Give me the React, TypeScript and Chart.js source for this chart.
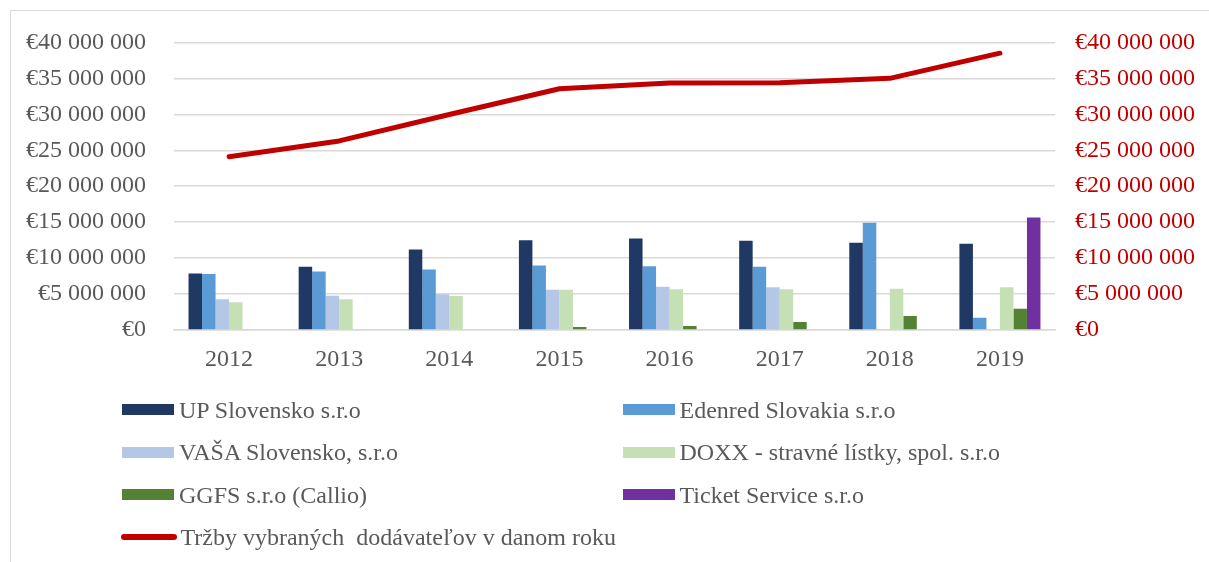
import React, { useEffect, useRef } from "react";
import { Chart, registerables } from "chart.js";

Chart.register(...registerables);

// ---- data ----
const categories = ["2012", "2013", "2014", "2015", "2016", "2017", "2018", "2019"];

const upSlovensko = [7850000, 8780000, 11200000, 12500000, 12730000, 12410000, 12140000, 12000000];
const edenred = [7800000, 8140000, 8410000, 8970000, 8870000, 8780000, 14900000, 1700000];
const vasa = [4280000, 4780000, 4970000, 5610000, 6030000, 5930000, null, null];
const doxx = [3860000, 4280000, 4730000, 5610000, 5660000, 5660000, 5750000, 5930000];
const ggfs = [null, null, null, 410000, 550000, 1100000, 1930000, 2940000];
const ticketService = [null, null, null, null, null, null, null, 15630000];
const trzby = [24100000, 26300000, 29970000, 33560000, 34340000, 34400000, 35000000, 38500000];

const seriesLabels = [
  "UP Slovensko s.r.o",
  "Edenred Slovakia s.r.o",
  "VAŠA Slovensko, s.r.o",
  "DOXX - stravné lístky, spol. s.r.o",
  "GGFS s.r.o (Callio)",
  "Ticket Service s.r.o",
];
const lineLabel = "Tržby vybraných  dodávateľov v danom roku";

const seriesColors = ["#203864", "#5B9BD5", "#B4C7E7", "#C5E0B4", "#548235", "#7030A0"];
const lineColor = "#C00000";

const axisMin = 0;
const axisMax = 40000000;
const axisStep = 5000000;

const FONT = '"Liberation Serif", "Times New Roman", serif';
const TEXT_GREY = "#595959";
const GRID = "#d9d9d9";

function euro(v: number | string): string {
  const n = Math.round(Number(v));
  const s = String(n).replace(/\B(?=(\d{3})+(?!\d))/g, " ");
  return "€" + s;
}

export default function App() {
  const canvasRef = useRef<HTMLCanvasElement | null>(null);

  useEffect(() => {
    const canvas = canvasRef.current;
    if (!canvas) return;
    const barSeries = [upSlovensko, edenred, vasa, doxx, ggfs, ticketService];
    const datasets: any[] = barSeries.map((d, i) => ({
      type: "bar",
      label: seriesLabels[i],
      data: d,
      backgroundColor: seriesColors[i],
      borderWidth: 0,
      categoryPercentage: 0.736,
      barPercentage: 1,
      yAxisID: "y",
      order: 1,
    }));
    datasets.push({
      type: "line",
      label: lineLabel,
      data: trzby,
      borderColor: lineColor,
      backgroundColor: lineColor,
      borderWidth: 5,
      borderCapStyle: "round",
      borderJoinStyle: "round",
      pointRadius: 0,
      tension: 0,
      yAxisID: "y1",
      order: 0,
    });

    const chart = new Chart(canvas, {
      type: "bar",
      data: { labels: categories, datasets },
      options: {
        responsive: false,
        animation: false,
        layout: { padding: { top: 39, bottom: 182, left: 0, right: 0 } },
        plugins: { legend: { display: false }, tooltip: { enabled: false }, title: { display: false } },
        scales: {
          x: {
            grid: { display: false, drawTicks: false },
            border: { display: true, color: GRID, width: 1.5 },
            ticks: { font: { family: FONT, size: 24 }, color: TEXT_GREY, padding: 15 },
            afterFit: (s: any) => {
              s.height = 50;
            },
          },
          y: {
            position: "left",
            min: axisMin,
            max: axisMax,
            grid: { color: GRID, lineWidth: 1.5, drawTicks: false },
            border: { display: false },
            ticks: {
              stepSize: axisStep,
              autoSkip: false,
              font: { family: FONT, size: 24 },
              color: TEXT_GREY,
              padding: 28,
              callback: (v: any) => euro(v),
            },
            afterFit: (s: any) => {
              s.width = 174;
            },
          },
          y1: {
            position: "right",
            min: axisMin,
            max: axisMax,
            grid: { display: false, drawTicks: false },
            border: { display: false },
            ticks: {
              stepSize: axisStep,
              autoSkip: false,
              font: { family: FONT, size: 24 },
              color: lineColor,
              padding: 20,
              callback: (v: any) => euro(v),
            },
            afterFit: (s: any) => {
              s.width = 154;
            },
          },
        },
      },
    });
    return () => chart.destroy();
  }, []);

  const legendItems = [
    ...seriesLabels.map((l, i) => ({ label: l, color: seriesColors[i], line: false })),
    { label: lineLabel, color: lineColor, line: true },
  ];

  return (
    <div
      style={{
        position: "absolute",
        left: 0,
        top: 0,
        width: 1209,
        height: 562,
        overflow: "hidden",
        background: "#fff",
      }}
    >
      <div
        style={{
          position: "absolute",
          left: 10,
          top: 10,
          width: 1400,
          height: 800,
          border: `1px solid ${GRID}`,
          boxSizing: "border-box",
        }}
      />
      <canvas
        ref={canvasRef}
        width={1209}
        height={562}
        style={{ position: "absolute", left: 0, top: 0, display: "block" }}
      />
      <div
        style={{
          position: "absolute",
          left: 122,
          top: 388.8,
          width: 1000,
          display: "grid",
          gridTemplateColumns: "500.5px 500px",
          gridAutoRows: "42.4px",
          fontFamily: FONT,
          fontSize: 24,
          color: TEXT_GREY,
        }}
      >
        {legendItems.map((it, i) => (
          <div
            key={i}
            style={{
              display: "flex",
              alignItems: "center",
              gridColumn: it.line ? "1 / span 2" : undefined,
              whiteSpace: "pre",
              lineHeight: "28px",
            }}
          >
            {it.line ? (
              <span
                style={{
                  display: "inline-block",
                  width: 56,
                  height: 6,
                  borderRadius: 3,
                  background: it.color,
                  marginLeft: -1.5,
                  marginRight: 4,
                }}
              />
            ) : (
              <span
                style={{
                  display: "inline-block",
                  width: 52,
                  height: 11,
                  background: it.color,
                  marginRight: 5,
                }}
              />
            )}
            <span>{it.label}</span>
          </div>
        ))}
      </div>
    </div>
  );
}
